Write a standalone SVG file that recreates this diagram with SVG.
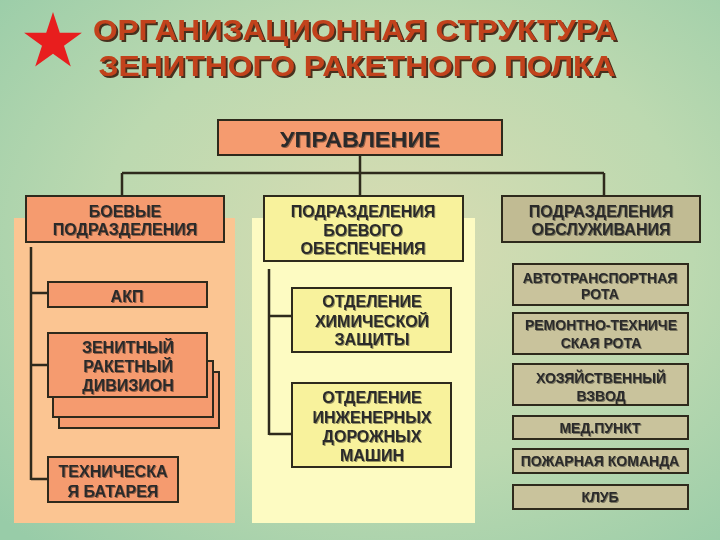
<svg xmlns="http://www.w3.org/2000/svg" width="720" height="540" viewBox="0 0 720 540">
<defs>
<radialGradient id="bg" cx="0.55" cy="0.45" r="0.75">
<stop offset="0" stop-color="#d9dcb2"/>
<stop offset="0.55" stop-color="#bcd9b0"/>
<stop offset="1" stop-color="#98cca8"/>
</radialGradient>
<filter id="tsh" x="-5%" y="-20%" width="110%" height="150%">
<feDropShadow dx="2" dy="2" stdDeviation="0.3" flood-color="#3a1a0a" flood-opacity="0.9"/>
</filter>
<filter id="bsh" x="-5%" y="-20%" width="110%" height="150%">
<feDropShadow dx="1" dy="1" stdDeviation="0.3" flood-color="#000" flood-opacity="0.4"/>
</filter>
</defs>
<style>
.title{font-family:"Liberation Sans",Arial,sans-serif;font-weight:bold;font-size:29px;fill:#c2421a;text-anchor:middle}
.t{font-family:"Liberation Sans",Arial,sans-serif;font-weight:bold;font-size:16px;fill:#2b2b2b;text-anchor:middle}
.s{font-family:"Liberation Sans",Arial,sans-serif;font-weight:bold;font-size:14px;fill:#2b2b2b;text-anchor:middle}
.big{font-size:22px}
.box{stroke:#2e2a1c;stroke-width:2}
.o{fill:#f59b6f}
.y{fill:#f8f29c}
.k{fill:#c1bb93}
.kb{fill:#c9c39c}
.ln{stroke:#2e2a1c;stroke-width:2.5;fill:none}
</style>
<rect width="720" height="540" fill="url(#bg)"/>
<g id="title">
<polygon points="53,12 59.8,32.8 81.9,32.8 64,45.8 70.8,66.6 53,53.8 35.2,66.6 42,45.8 24.1,32.8 46.2,32.8" fill="#e81e1e"/>
<text class="title" x="355" y="40" filter="url(#tsh)" textLength="524" lengthAdjust="spacingAndGlyphs">ОРГАНИЗАЦИОННАЯ СТРУКТУРА</text>
<text class="title" x="357" y="76" filter="url(#tsh)" textLength="517" lengthAdjust="spacingAndGlyphs">ЗЕНИТНОГО РАКЕТНОГО ПОЛКА</text>
</g>
<g id="panels">
<rect x="14" y="218" width="221" height="305" fill="#fbc592"/>
<rect x="252" y="218" width="223" height="305" fill="#fdfbc2"/>
</g>
<g id="connectors">
<path class="ln" d="M360,155V173M122,173H604M122,173V196M360,173V196M604,173V196"/>
<path class="ln" d="M31,247V480M31,293H48M31,365H48M31,479H48"/>
<path class="ln" d="M269,269V435M269,316H292M269,434H292"/>
</g>
<g id="upravlenie">
<rect class="box o" x="218" y="120" width="284" height="35"/>
<text class="t big" x="360" y="147" filter="url(#bsh)" textLength="160" lengthAdjust="spacingAndGlyphs">УПРАВЛЕНИЕ</text>
</g>
<g id="boevye">
<rect class="box o" x="26" y="196" width="198" height="46"/>
<text class="t" x="125" y="217" filter="url(#bsh)">БОЕВЫЕ</text>
<text class="t" x="125" y="235" filter="url(#bsh)">ПОДРАЗДЕЛЕНИЯ</text>
</g>
<g id="akp">
<rect class="box o" x="48" y="282" width="159" height="25"/>
<text class="t" x="127" y="302" filter="url(#bsh)">АКП</text>
</g>
<g id="zrd">
<rect class="box o" x="59" y="372" width="160" height="56"/>
<rect class="box o" x="53" y="361" width="160" height="56"/>
<rect class="box o" x="48" y="333" width="159" height="64"/>
<text class="t" x="128" y="353" filter="url(#bsh)">ЗЕНИТНЫЙ</text>
<text class="t" x="128" y="372" filter="url(#bsh)">РАКЕТНЫЙ</text>
<text class="t" x="128" y="391" filter="url(#bsh)">ДИВИЗИОН</text>
</g>
<g id="tb">
<rect class="box o" x="48" y="457" width="130" height="45"/>
<text class="t" x="113" y="477" filter="url(#bsh)">ТЕХНИЧЕСКА</text>
<text class="t" x="113" y="497" filter="url(#bsh)">Я БАТАРЕЯ</text>
</g>
<g id="obespechenie">
<rect class="box y" x="264" y="196" width="199" height="65"/>
<text class="t" x="363" y="217" filter="url(#bsh)">ПОДРАЗДЕЛЕНИЯ</text>
<text class="t" x="363" y="236" filter="url(#bsh)">БОЕВОГО</text>
<text class="t" x="363" y="254" filter="url(#bsh)">ОБЕСПЕЧЕНИЯ</text>
</g>
<g id="ohz">
<rect class="box y" x="292" y="288" width="159" height="64"/>
<text class="t" x="372" y="307" filter="url(#bsh)">ОТДЕЛЕНИЕ</text>
<text class="t" x="372" y="327" filter="url(#bsh)">ХИМИЧЕСКОЙ</text>
<text class="t" x="372" y="345" filter="url(#bsh)">ЗАЩИТЫ</text>
</g>
<g id="oidm">
<rect class="box y" x="292" y="383" width="159" height="84"/>
<text class="t" x="372" y="403" filter="url(#bsh)">ОТДЕЛЕНИЕ</text>
<text class="t" x="372" y="423" filter="url(#bsh)">ИНЖЕНЕРНЫХ</text>
<text class="t" x="372" y="442" filter="url(#bsh)">ДОРОЖНЫХ</text>
<text class="t" x="372" y="461" filter="url(#bsh)">МАШИН</text>
</g>
<g id="obsluzhivanie">
<rect class="box k" x="502" y="196" width="198" height="46"/>
<text class="t" x="601" y="217" filter="url(#bsh)">ПОДРАЗДЕЛЕНИЯ</text>
<text class="t" x="601" y="235" filter="url(#bsh)">ОБСЛУЖИВАНИЯ</text>
</g>
<g id="atr">
<rect class="box kb" x="513" y="264" width="175" height="41"/>
<text class="s" x="600" y="283" filter="url(#bsh)">АВТОТРАНСПОРТНАЯ</text>
<text class="s" x="600" y="299" filter="url(#bsh)">РОТА</text>
</g>
<g id="rtr">
<rect class="box kb" x="513" y="313" width="175" height="41"/>
<text class="s" x="601" y="330" filter="url(#bsh)">РЕМОНТНО-ТЕХНИЧЕ</text>
<text class="s" x="601" y="348" filter="url(#bsh)">СКАЯ РОТА</text>
</g>
<g id="hv">
<rect class="box kb" x="513" y="364" width="175" height="41"/>
<text class="s" x="601" y="383" filter="url(#bsh)">ХОЗЯЙСТВЕННЫЙ</text>
<text class="s" x="601" y="401" filter="url(#bsh)">ВЗВОД</text>
</g>
<g id="medpunkt">
<rect class="box kb" x="513" y="416" width="175" height="23"/>
<text class="s" x="600" y="433" filter="url(#bsh)">МЕД.ПУНКТ</text>
</g>
<g id="pk">
<rect class="box kb" x="513" y="449" width="175" height="24"/>
<text class="s" x="600" y="466" filter="url(#bsh)">ПОЖАРНАЯ КОМАНДА</text>
</g>
<g id="klub">
<rect class="box kb" x="513" y="485" width="175" height="24"/>
<text class="s" x="600" y="502" filter="url(#bsh)">КЛУБ</text>
</g>
</svg>
